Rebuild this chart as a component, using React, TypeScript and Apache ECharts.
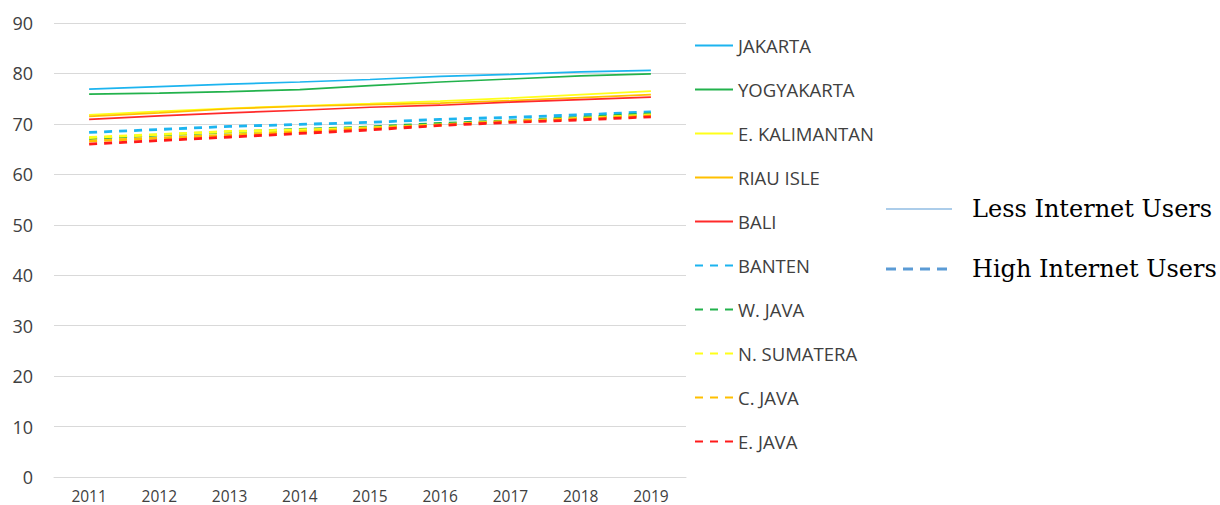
import React, { useEffect, useRef } from "react";
import * as echarts from "echarts";

const years = ["2011", "2012", "2013", "2014", "2015", "2016", "2017", "2018", "2019"];

const jakarta = [76.9, 77.4, 77.9, 78.3, 78.8, 79.4, 79.8, 80.3, 80.6];
const yogyakarta = [75.9, 76.1, 76.4, 76.8, 77.6, 78.3, 78.9, 79.5, 79.9];
const eKalimantan = [71.8, 72.5, 73.1, 73.6, 74.0, 74.5, 75.1, 75.8, 76.5];
const riauIsle = [71.5, 72.2, 73.0, 73.5, 73.8, 74.1, 74.6, 75.2, 75.8];
const bali = [70.9, 71.6, 72.2, 72.7, 73.3, 73.7, 74.3, 74.8, 75.3];
const banten = [68.3, 68.9, 69.5, 69.9, 70.3, 70.9, 71.3, 71.8, 72.4];
const wJava = [67.1, 67.8, 68.4, 68.9, 69.4, 70.1, 70.6, 71.3, 72.0];
const nSumatera = [67.3, 67.9, 68.5, 68.8, 69.2, 69.8, 70.5, 71.1, 71.8];
const cJava = [66.6, 67.2, 67.8, 68.4, 69.1, 69.8, 70.5, 71.0, 71.6];
const eJava = [66.0, 66.7, 67.4, 68.1, 68.8, 69.7, 70.3, 70.8, 71.4];

const yTicks = { min: 0, max: 90, interval: 10 };

const seriesDefs = [
  { name: "JAKARTA", data: jakarta, color: "#1cb4ef", dashed: false },
  { name: "YOGYAKARTA", data: yogyakarta, color: "#22b24c", dashed: false },
  { name: "E. KALIMANTAN", data: eKalimantan, color: "#ffff1a", dashed: false },
  { name: "RIAU ISLE", data: riauIsle, color: "#ffc000", dashed: false },
  { name: "BALI", data: bali, color: "#ff2a2a", dashed: false },
  { name: "BANTEN", data: banten, color: "#1cb4ef", dashed: true },
  { name: "W. JAVA", data: wJava, color: "#22b24c", dashed: true },
  { name: "N. SUMATERA", data: nSumatera, color: "#ffff1a", dashed: true },
  { name: "C. JAVA", data: cJava, color: "#ffc000", dashed: true },
  { name: "E. JAVA", data: eJava, color: "#ff1a1a", dashed: true },
];

const groupLegend = [
  { label: "Less Internet Users", dashed: false },
  { label: "High Internet Users", dashed: true },
];

export default function App() {
  const ref = useRef<HTMLDivElement>(null);
  useEffect(() => {
    if (!ref.current) return;
    const chart = echarts.init(ref.current, null, { renderer: "svg" });
    const font = "'Open Sans', sans-serif";
    const serif = "'DejaVu Serif', 'Liberation Serif', serif";
    chart.setOption({
      animation: false,
      backgroundColor: "#ffffff",
      grid: { left: 54, right: 534, top: 23, bottom: 28, containLabel: false },
      xAxis: {
        type: "category",
        data: years,
        boundaryGap: true,
        axisLine: { show: true, lineStyle: { color: "#d9d9d9", width: 1 } },
        axisTick: { show: false },
        axisLabel: { color: "#404040", fontSize: 15.5, fontFamily: font, margin: 11, lineHeight: 15 },
      },
      yAxis: {
        type: "value",
        min: yTicks.min,
        max: yTicks.max,
        interval: yTicks.interval,
        axisLine: { show: false },
        axisTick: { show: false },
        splitLine: { lineStyle: { color: "#d9d9d9", width: 1 } },
        axisLabel: { color: "#404040", fontSize: 18, fontFamily: font, margin: 21 },
      },
      legend: {
        orient: "vertical",
        left: 694,
        top: 36,
        padding: 0,
        itemWidth: 38,
        itemHeight: 18,
        itemGap: 25,
        itemStyle: { opacity: 0 },
        textStyle: { color: "#404040", fontSize: 18.5, fontFamily: font, lineHeight: 18 },
        data: seriesDefs.map((s) => s.name),
      },
      series: seriesDefs.map((s) => ({
        name: s.name,
        type: "line",
        data: s.data,
        symbol: "none",
        showSymbol: false,
        color: s.color,
        lineStyle: s.dashed
          ? { color: s.color, width: 2.8, type: [8, 7] }
          : { color: s.color, width: 1.7, type: "solid" },
        z: s.dashed ? 2 : 3,
      })),
      graphic: groupLegend.flatMap((g, i) => [
        {
          type: "line",
          shape: { x1: 886, y1: 209 + i * 60, x2: 952, y2: 209 + i * 60 },
          style: g.dashed
            ? { stroke: "#5b9bd5", lineWidth: 3, lineDash: [10, 7] }
            : { stroke: "#5b9bd5", lineWidth: 1.2 },
        },
        {
          type: "text",
          x: 972,
          y: 208.5 + i * 60,
          style: {
            text: g.label,
            fill: "#000000",
            fontSize: 24,
            fontFamily: serif,
            textVerticalAlign: "middle",
            verticalAlign: "middle",
          },
        },
      ]),
    });
    return () => chart.dispose();
  }, []);
  return (
    <div
      ref={ref}
      style={{ position: "absolute", left: 0, top: 0, width: 1220, height: 505 }}
    />
  );
}
